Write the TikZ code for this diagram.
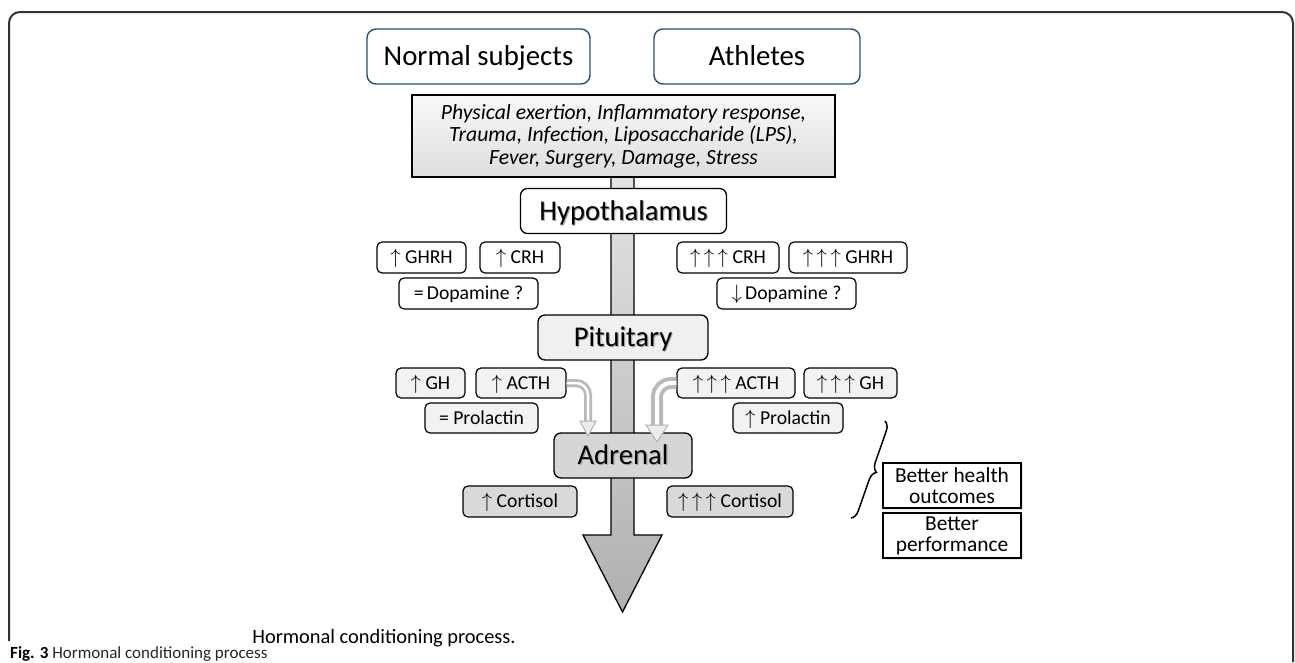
\documentclass[tikz,border=0pt]{standalone}
\usepackage{fontspec}
\setmainfont{Carlito}
\usetikzlibrary{decorations.pathreplacing,shadows}

\definecolor{groupblue}{HTML}{2F4A7A}
\definecolor{framegray}{HTML}{333333}

\tikzset{
  group/.style={draw=groupblue, line width=1.4pt, rounded corners=9pt, fill=white,
    minimum height=55pt, inner sep=0pt, text height=21pt, text depth=2.5pt,
    font=\fontsize{28.8}{30}\selectfont},
  organ/.style={draw=black, line width=1.3pt, rounded corners=7pt, minimum height=45pt,
    inner sep=0pt, text height=21pt, text depth=2.6pt, font=\fontsize{28.6}{30}\selectfont},
  hormone/.style={draw=black, line width=1.2pt, rounded corners=5pt, minimum height=31pt,
    inner sep=0pt, text height=14pt, text depth=1.3pt, font=\fontsize{19.7}{21}\selectfont},
  result/.style={draw=black, line width=1.2pt, fill=white, minimum width=138pt,
    minimum height=45pt, align=center, inner sep=0pt, font=\fontsize{21.4}{21}\selectfont,
    drop shadow={opacity=0.2, shadow xshift=1.5pt, shadow yshift=-1.5pt}},
  tubeout/.style={line width=#1, draw=gray!55},
  tubein/.style={line width=#1, draw=white},
  tubehead/.style={draw=gray!60, line width=1pt, fill=gray!15}
}
\newcommand{\up}{$\uparrow$}
\newcommand{\upthree}{$\uparrow\mkern3mu\uparrow\mkern3mu\uparrow$}
\newcommand{\shd}[1]{\rlap{\kern1.2pt\raisebox{-1.2pt}{\textcolor{black!35}{#1}}}#1}

\begin{document}
\begin{tikzpicture}[x=1pt, y=-1pt]
  \useasboundingbox (0,0) rectangle (1295,662);

  %%%%% FRAME %%%%%
  \draw[framegray, line width=2pt, rounded corners=11pt] (9,641) -- (9,12) -- (1293,12) -- (1293,662);

  %%%%% MAIN ARROW %%%%%
  \draw[line width=1.3pt, top color=gray!22, bottom color=gray!62]
    (611,178) -- (611,535) -- (583,535) -- (622.5,612) -- (662,535) -- (634,535) -- (634,178);

  %%%%% GROUPS %%%%%
  \node[group, minimum width=223pt] (normal) at (478.5,56.5) {Normal subjects};
  \node[group, minimum width=206pt] (athletes) at (757,56.5) {Athletes};

  \node[draw, line width=1.3pt, top color=gray!5, bottom color=gray!26, minimum width=423pt,
    minimum height=82pt, inner sep=0pt, align=center,
    font=\fontsize{21.7}{22.5}\selectfont\itshape] (stimuli) at (623.5,136)
    {Physical exertion, Inflammatory response,\\Trauma, Infection, Liposaccharide (LPS),\\Fever, Surgery, Damage, Stress};

  %%%%% HYPOTHALAMUS %%%%%
  \node[organ, fill=white, minimum width=206pt] (hypo) at (623.5,211) {\shd{Hypothalamus}};

  \node[hormone, fill=white, minimum width=89pt] (ghrhL) at (421.5,257.5) {\up\ GHRH};
  \node[hormone, fill=white, minimum width=80pt] (crhL) at (520,257.5) {\up\ CRH};
  \node[hormone, fill=white, minimum width=102pt] (crhR) at (728,257.5) {\upthree\ CRH};
  \node[hormone, fill=white, minimum width=118pt] (ghrhR) at (848,257.5) {\upthree\ GHRH};
  \node[hormone, fill=white, minimum width=139pt] (dopaL) at (468.5,293.5) {=\,Dopamine ?};
  \node[hormone, fill=white, minimum width=139pt] (dopaR) at (786.5,293.5) {$\downarrow$\,Dopamine ?};

  %%%%% PITUITARY %%%%%
  \node[organ, fill=gray!12, minimum width=170pt] (pit) at (623,337.5) {\shd{Pituitary}};

  \node[hormone, fill=gray!10, minimum width=69pt, minimum height=30pt] (ghL) at (430.5,383) {\up\ GH};
  \node[hormone, fill=gray!10, minimum width=90pt, minimum height=30pt] (acthL) at (521,383) {\up\ ACTH};
  \node[hormone, fill=gray!10, minimum width=118pt, minimum height=30pt] (acthR) at (736,383) {\upthree\ ACTH};
  \node[hormone, fill=gray!10, minimum width=93pt, minimum height=30pt] (ghR) at (850.5,383) {\upthree\ GH};
  \node[hormone, fill=gray!10, minimum width=113pt, minimum height=30pt] (prlL) at (481.5,418) {=\ Prolactin};
  \node[hormone, fill=gray!10, minimum width=110pt, minimum height=30pt] (prlR) at (788,418) {\up\ Prolactin};

  %%%%% ADRENAL %%%%%
  \node[organ, fill=gray!32, minimum width=138pt] (adrenal) at (623,455.5) {\shd{Adrenal}};

  \node[hormone, fill=gray!30, minimum width=114pt] (cortL) at (520,501.5) {\up\ Cortisol};
  \node[hormone, fill=gray!30, minimum width=126pt] (cortR) at (730,501.5) {\upthree\ Cortisol};

  % ACTH tubes
  \coordinate (bendL) at (588,421);
  \coordinate (bendR) at (657,425);
  \draw[tubeout=8pt, rounded corners=12pt] (acthL.east) -| (bendL);
  \draw[tubein=2.5pt, rounded corners=12pt] (acthL.east) -| (bendL);
  \draw[tubehead] (580,421) -- (596,421) -- (588,436) -- cycle;
  \draw[tubeout=12pt, rounded corners=14pt] (acthR.west) -| (bendR);
  \draw[tubein=4pt, rounded corners=14pt] (acthR.west) -| (bendR);
  \draw[tubehead] (646,425) -- (668,425) -- (657,442) -- cycle;

  %%%%% OUTCOMES %%%%%
  \draw[line width=1.5pt, decorate, decoration={brace, amplitude=9pt}] (885,421) -- (851,518);
  \node[result] (health) at (952,485.5) {Better health\\outcomes};
  \node[result] (perf) at (952,535.5) {Better\\performance};

  %%%%% CAPTIONS %%%%%
  \node[anchor=base, inner sep=0pt, font=\fontsize{20.4}{22}\selectfont] (process) at (384,643) {Hormonal conditioning process.};
  \node[anchor=base west, inner sep=0pt, font=\fontsize{17}{20}\selectfont, text=black!85] (figcap) at (10,658)
    {\textbf{\color{black}Fig. 3} Hormonal conditioning process};
\end{tikzpicture}
\end{document}
